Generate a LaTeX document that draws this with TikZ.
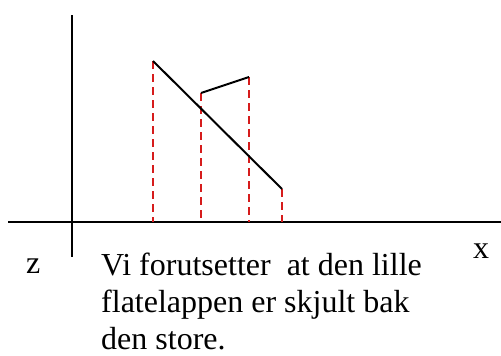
\documentclass[tikz,border=0pt]{standalone}
\usepackage{fontspec}
\setmainfont{Liberation Serif}
\definecolor{dashred}{RGB}{214,28,28}
\begin{document}
\begin{tikzpicture}[x=1pt,y=-1pt,
  axis/.style={line width=2pt,black},
  edge/.style={line width=2pt,black},
  proj/.style={line width=2pt,dashred,dash pattern=on 8pt off 5pt},
  lbl/.style={font=\fontsize{32}{36}\selectfont,anchor=base west,inner sep=0pt}]
\useasboundingbox (0,0) rectangle (501,356);
\coordinate (xl) at (8,222);
\coordinate (xr) at (501,222);
\coordinate (zt) at (72,15);
\coordinate (zb) at (72,257);
\draw[axis] (xl) -- (xr);
\draw[axis] (zt) -- (zb);
\coordinate (a1) at (153,61);
\coordinate (a2) at (282,189);
\coordinate (b1) at (201,93);
\coordinate (b2) at (249,77);
\coordinate (a1g) at (153,222);
\coordinate (a2g) at (282,222);
\coordinate (b1g) at (201,222);
\coordinate (b2g) at (249,222);
\draw[proj] (a1) -- (a1g);
\draw[proj] (b1) -- (b1g);
\draw[proj] (b2) -- (b2g);
\draw[proj] (a2) -- (a2g);
\draw[edge] (a1) -- (a2);
\draw[edge] (b1) -- (b2);
\node[lbl] (zlab) at (26,273) {z};
\node[lbl] (xlab) at (473,258) {x};
\node[lbl] (txt) at (101,275) {Vi forutsetter\ \ at den lille};
\node[lbl] (txt2) at (101,312) {flatelappen er skjult bak};
\node[lbl] (txt3) at (101,349) {den store.};
\end{tikzpicture}
\end{document}
